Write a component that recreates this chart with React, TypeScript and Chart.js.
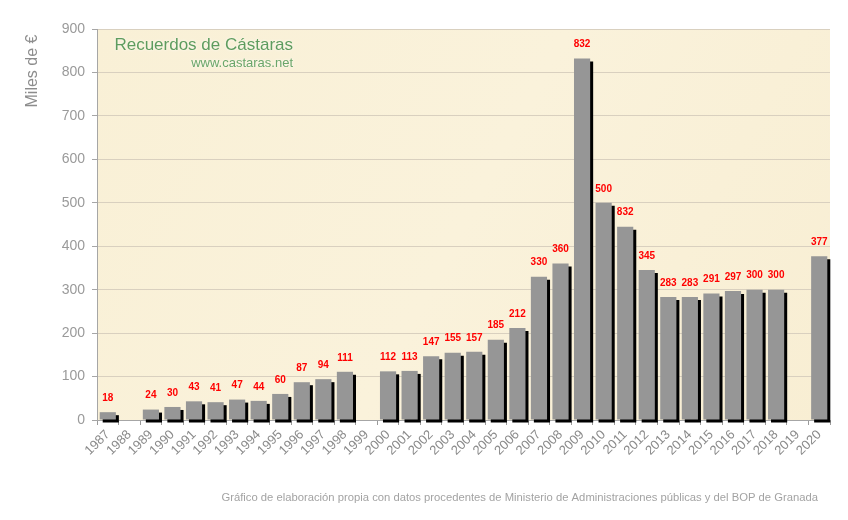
import React, { useEffect, useRef } from "react";
import { Chart, registerables } from "chart.js";

Chart.register(...registerables);

const years = [
  "1987", "1988", "1989", "1990", "1991", "1992", "1993", "1994", "1995", "1996",
  "1997", "1998", "1999", "2000", "2001", "2002", "2003", "2004", "2005", "2006",
  "2007", "2008", "2009", "2010", "2011", "2012", "2013", "2014", "2015", "2016",
  "2017", "2018", "2019", "2020",
];

const values: (number | null)[] = [
  18, null, 24, 30, 43, 41, 47, 44, 60, 87,
  94, 111, null, 112, 113, 147, 155, 157, 185, 212,
  330, 360, 832, 500, 445, 345, 283, 283, 291, 297,
  300, 300, null, 377,
];

const valueLabels: (string | null)[] = [
  "18", null, "24", "30", "43", "41", "47", "44", "60", "87",
  "94", "111", null, "112", "113", "147", "155", "157", "185", "212",
  "330", "360", "832", "500", "832", "345", "283", "283", "291", "297",
  "300", "300", null, "377",
];

const yTicks = [0, 100, 200, 300, 400, 500, 600, 700, 800, 900];

const titleText = "Recuerdos de Cástaras";
const webText = "www.castaras.net";
const yAxisTitle = "Miles de €";
const captionText =
  "Gráfico de elaboración propia con datos procedentes de Ministerio de Administraciones públicas y del BOP de Granada";

const FONT = "'Liberation Sans', Arial, sans-serif";

const decorPlugin = {
  id: "decor",
  beforeDraw(chart: any) {
    const { ctx, chartArea } = chart;
    ctx.save();
    ctx.fillStyle = "#ffffff";
    ctx.fillRect(0, 0, chart.width, chart.height);
    const g = ctx.createLinearGradient(chartArea.left, chartArea.top, chartArea.right, chartArea.bottom);
    g.addColorStop(0, "#f9f0d6");
    g.addColorStop(0.5, "#faf2db");
    g.addColorStop(1, "#f8eed3");
    ctx.fillStyle = g;
    ctx.fillRect(chartArea.left, chartArea.top, chartArea.right - chartArea.left, chartArea.bottom - chartArea.top);
    ctx.restore();
  },
  beforeDatasetsDraw(chart: any) {
    const { ctx } = chart;
    ctx.save();
    ctx.shadowColor = "#000000";
    ctx.shadowOffsetX = 3;
    ctx.shadowOffsetY = 3;
    ctx.shadowBlur = 0;
  },
  afterDatasetsDraw(chart: any) {
    const { ctx } = chart;
    ctx.restore();
    const meta = chart.getDatasetMeta(0);
    ctx.save();
    ctx.fillStyle = "#ff0000";
    ctx.font = "bold 10px " + FONT;
    ctx.textAlign = "center";
    ctx.textBaseline = "middle";
    meta.data.forEach((el: any, i: number) => {
      const lbl = valueLabels[i];
      if (lbl == null || values[i] == null) return;
      ctx.fillText(lbl, el.x, el.y - 14);
    });
    ctx.restore();
  },
  afterDraw(chart: any) {
    const { ctx } = chart;
    ctx.save();
    // title
    ctx.textAlign = "right";
    ctx.textBaseline = "middle";
    ctx.font = "17px " + FONT;
    ctx.shadowColor = "rgba(255,255,255,0.9)";
    ctx.shadowBlur = 3;
    ctx.fillStyle = "#5e9c5e";
    ctx.fillText(titleText, 293, 45);
    ctx.font = "13px " + FONT;
    ctx.fillStyle = "#6aa66a";
    ctx.fillText(webText, 293, 63);
    ctx.shadowBlur = 0;
    ctx.shadowColor = "transparent";
    // y axis title
    ctx.save();
    ctx.translate(33, 71);
    ctx.rotate(-Math.PI / 2);
    ctx.textAlign = "center";
    ctx.textBaseline = "middle";
    ctx.font = "16px " + FONT;
    ctx.fillStyle = "#8c8c8c";
    ctx.fillText(yAxisTitle, 0, 0);
    ctx.restore();
    // caption
    ctx.textAlign = "right";
    ctx.textBaseline = "middle";
    ctx.font = "11.25px " + FONT;
    ctx.fillStyle = "#a3a3a3";
    ctx.fillText(captionText, 818, 498);
    ctx.restore();
  },
};

export default function App() {
  const ref = useRef<HTMLCanvasElement | null>(null);
  useEffect(() => {
    if (!ref.current) return;
    const chart = new Chart(ref.current, {
      type: "bar",
      data: {
        labels: years,
        datasets: [
          {
            data: values as any,
            backgroundColor: "#969696",
            borderWidth: 0,
            barPercentage: 0.75,
            categoryPercentage: 1,
            clip: false as any,
          },
        ],
      },
      options: {
        responsive: false,
        animation: false,
        maintainAspectRatio: false,
        layout: { padding: { left: 0, top: 29, right: 18, bottom: 0 } },
        plugins: {
          legend: { display: false },
          tooltip: { enabled: false },
          title: { display: false },
        },
        scales: {
          x: {
            afterFit(scale: any) {
              scale.height = 100;
            },
            grid: {
              display: true,
              drawOnChartArea: false,
              drawTicks: true,
              tickLength: 5,
              tickColor: "#9a9a9a",
              offset: true,
            },
            border: { color: "#a6a6a6", width: 1 },
            ticks: {
              autoSkip: false,
              minRotation: 45,
              maxRotation: 45,
              color: "#8a8a8a",
              font: { family: FONT, size: 13 },
              padding: 2,
            },
          },
          y: {
            min: 0,
            max: 900,
            afterFit(scale: any) {
              scale.width = 97;
            },
            afterBuildTicks(scale: any) {
              scale.ticks = yTicks.map((v) => ({ value: v }));
            },
            grid: {
              color: "#d9d0bf",
              lineWidth: 1,
              tickLength: 5,
              tickColor: "#a6a6a6",
            },
            border: { color: "#a6a6a6", width: 1 },
            ticks: {
              color: "#9a9a9a",
              font: { family: FONT, size: 14 },
              padding: 7,
            },
          },
        },
      },
      plugins: [decorPlugin],
    });
    return () => chart.destroy();
  }, []);
  return (
    <div style={{ position: "absolute", left: 0, top: 0, width: 848, height: 520, background: "#fff" }}>
      <canvas ref={ref} width={848} height={520} style={{ width: 848, height: 520 }} />
    </div>
  );
}
